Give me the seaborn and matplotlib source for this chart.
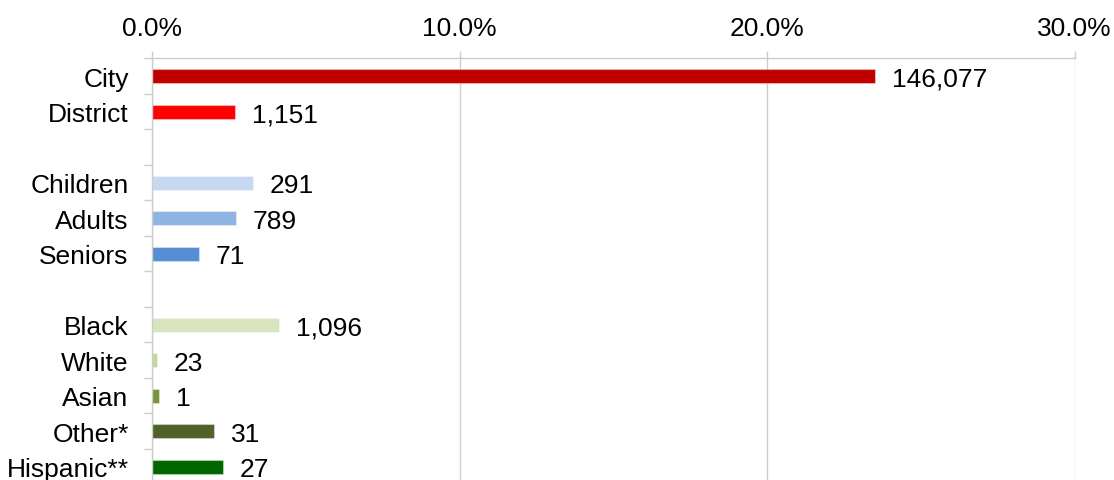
import matplotlib
matplotlib.use("Agg")
import matplotlib.pyplot as plt
import seaborn as sns
import pandas as pd
from matplotlib.ticker import FuncFormatter, FixedLocator

# ---- data ----
categories = ["City", "District", "Children", "Adults", "Seniors",
              "Black", "White", "Asian", "Other*", "Hispanic**"]
percent_values = [23.51, 2.69, 3.27, 2.73, 1.52, 4.13, 0.14, 0.23, 2.02, 2.30]
count_labels = ["146,077", "1,151", "291", "789", "71",
                "1,096", "23", "1", "31", "27"]
bar_colors = ["#C00000", "#FF0000", "#C6D9F1", "#8EB4E3", "#558ED5",
              "#D7E4BD", "#C3D69B", "#77933C", "#4F6228", "#006600"]
row_order = ["City", "District", " ",
             "Children", "Adults", "Seniors", "  ",
             "Black", "White", "Asian", "Other*", "Hispanic**"]
x_ticks = [0, 10, 20, 30]

df = pd.DataFrame({"category": categories, "value": percent_values})

sns.set_theme(style="white")
plt.rcParams["font.family"] = ["Liberation Sans", "DejaVu Sans"]

W, H = 1114, 481
fig = plt.figure(figsize=(W / 100, H / 100), dpi=100)
left, right, top, bottom = 152.3, 1074.7, 59.3, 485.5
ax = fig.add_axes([left / W, 1 - bottom / H, (right - left) / W, (bottom - top) / H])

sns.barplot(data=df, y="category", x="value", hue="category",
            order=row_order, hue_order=categories,
            palette=dict(zip(categories, bar_colors)),
            orient="h", width=0.39, legend=False, ax=ax,
            edgecolor=(1, 1, 1, 0.35), linewidth=0.8, saturation=1)

ax.set_xlim(0, 30)
ax.set_ylim(len(row_order) - 0.5, -0.5)
ax.set_xlabel("")
ax.set_ylabel("")

grid_c = "#CCCCCC"
fs = 19

# x axis on top
ax.xaxis.tick_top()
ax.set_xticks(x_ticks)
ax.xaxis.set_major_formatter(FuncFormatter(lambda v, p: f"{v:.1f}%"))
ax.tick_params(axis="x", which="major", length=5, width=1, color=grid_c,
               labelsize=fs, pad=8, labelcolor="#000000")
ax.grid(axis="x", color=grid_c, linewidth=1)
ax.set_axisbelow(True)

# y axis
ax.set_yticks(range(len(row_order)))
ax.set_yticklabels(row_order)
ax.tick_params(axis="y", which="major", length=0, labelsize=fs, pad=17,
               labelcolor="#000000")
ax.yaxis.set_minor_locator(FixedLocator([i - 0.5 for i in range(len(row_order) + 1)]))
ax.tick_params(axis="y", which="minor", length=6, width=1, color=grid_c, left=True)

for s in ["right", "bottom"]:
    ax.spines[s].set_visible(False)
for s in ["left", "top"]:
    ax.spines[s].set_color(grid_c)
    ax.spines[s].set_linewidth(1)

# value labels
for cat, val, lab in zip(categories, percent_values, count_labels):
    y = row_order.index(cat)
    ax.annotate(lab, xy=(val, y), xytext=(12, 0), textcoords="offset points",
                ha="left", va="center_baseline", fontsize=fs, color="#000000")

fig.savefig("out.png", dpi=100)
